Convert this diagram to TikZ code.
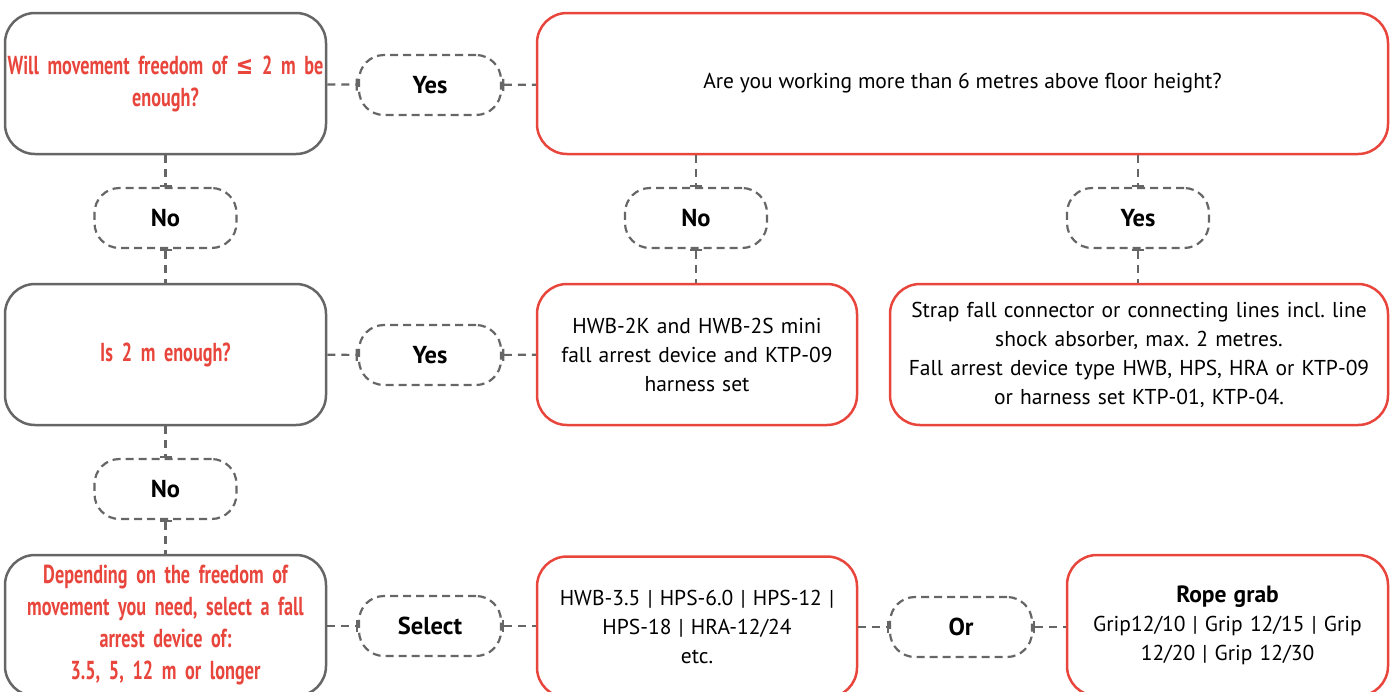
\documentclass[tikz,border=0pt]{standalone}
\usepackage{fontspec}
\setmainfont{PT Sans}
\newfontfamily\condfont[FakeStretch=0.70]{PT Sans}
\newfontfamily\mathsym[FakeStretch=0.80]{DejaVu Sans}
\usepackage{xcolor}
\usetikzlibrary{
    arrows.meta,
    positioning
}
\definecolor{askred}{HTML}{E8453C}
\definecolor{lineGrey}{HTML}{666666}
\frenchspacing
\newcommand{\askfont}{\condfont\bfseries\fontsize{26}{32}\selectfont\hyphenpenalty=10000\relax}

\begin{document}
\begin{tikzpicture}[
    x=1pt, y=-1pt,
    font=\fontsize{21.5}{29}\selectfont,
    question/.style={
        rectangle,
        rounded corners=30pt,
        draw=lineGrey,
        line width=2.5pt,
        align=center,
        minimum width=321pt,
        minimum height=141pt,
        text width=318pt,
        inner sep=0pt,
        text=askred,
        font=\askfont
    },
    answer/.style={
        rectangle,
        rounded corners=30pt,
        draw=askred,
        line width=2.5pt,
        align=center,
        minimum height=141pt,
        inner sep=0pt
    },
    choice/.style={
        rectangle,
        rounded corners=25pt,
        draw=lineGrey,
        line width=2.2pt,
        dash pattern=on 8pt off 5pt,
        minimum width=142pt,
        minimum height=60pt,
        font=\bfseries\fontsize{24.5}{28}\selectfont
    },
    link/.style={
        draw=lineGrey,
        line width=2.2pt,
        dash pattern=on 8pt off 6pt
    },
    tick/.style={
        -{Bar[width=12pt,line width=2.2pt]}
    },
    ticked/.style={
        {Bar[width=12pt,line width=2.2pt]}-
    }
]
\clip (0,0) rectangle (1396,691);

% =========================================================
% Questions (left column)
% =========================================================
\node[question] (freedom) at (165.5,83.5)
{Will movement freedom of {\mathsym\bfseries ≤} 2 m be\\enough?};

\node[question] (twoMetre) at (165.5,354.5)
{Is 2 m enough?};

\node[question] (depend) at (165.5,625.5)
{Depending on the freedom of\\movement you need, select a fall\\arrest device of:\\3.5, 5, 12 m or longer};

% =========================================================
% Answers
% =========================================================
\node[answer, minimum width=851pt] (height) at (962.5,83.5)
{Are you working more than 6 metres above floor height?};

\node[answer, minimum width=320pt, text width=310pt] (mini) at (697,354.5)
{HWB-2K and HWB-2S mini\\fall arrest device and KTP-09\\harness set};

\node[answer, minimum width=498pt, text width=490pt] (strap) at (1139,354.5)
{Strap fall connector or connecting lines incl. line\\shock absorber, max. 2 metres.\\Fall arrest device type HWB, HPS, HRA or KTP-09\\or harness set KTP-01, KTP-04.};

\node[answer, minimum width=320pt, text width=310pt] (device) at (697,627)
{HWB-3.5 | HPS-6.0 | HPS-12 |\\HPS-18 | HRA-12/24\\etc.};

\node[answer, minimum width=321pt, text width=310pt] (grab) at (1227.5,625.5)
{{\bfseries\fontsize{23.5}{29}\selectfont Rope grab}\\Grip12/10 | Grip 12/15 | Grip\\12/20 | Grip 12/30};

% =========================================================
% Choice labels
% =========================================================
\node[choice] (yesA) at (430,85) {Yes};
\node[choice] (noA) at (165.5,218) {No};
\node[choice] (noB) at (696,218) {No};
\node[choice] (yesB) at (1138,218) {Yes};
\node[choice] (yesC) at (430,355) {Yes};
\node[choice] (noC) at (165.5,489) {No};
\node[choice] (select) at (430,626) {Select};
\node[choice] (orGrab) at (961,627) {Or};

% =========================================================
% Connectors
% =========================================================
\draw[link, tick] (freedom) -- (yesA);
\draw[link, ticked] (yesA) -- (height);

\draw[link, tick] (freedom) -- (noA);
\draw[link, ticked] (noA) -- (twoMetre);

\draw[link, tick] (height.south -| noB) -- (noB);
\draw[link, ticked] (noB) -- (mini.north -| noB);

\draw[link, tick] (height.south -| yesB) -- (yesB);
\draw[link, ticked] (yesB) -- (strap.north -| yesB);

\draw[link, tick] (twoMetre) -- (yesC);
\draw[link, ticked] (yesC) -- (mini);

\draw[link, tick] (twoMetre) -- (noC);
\draw[link, ticked] (noC) -- (depend);

\draw[link, tick] (depend.east |- select) -- (select);
\draw[link, ticked] (select) -- (device.west |- select);

\draw[link, tick] (device.east |- orGrab) -- (orGrab);
\draw[link, ticked] (orGrab) -- (grab.west |- orGrab);

\end{tikzpicture}
\end{document}
